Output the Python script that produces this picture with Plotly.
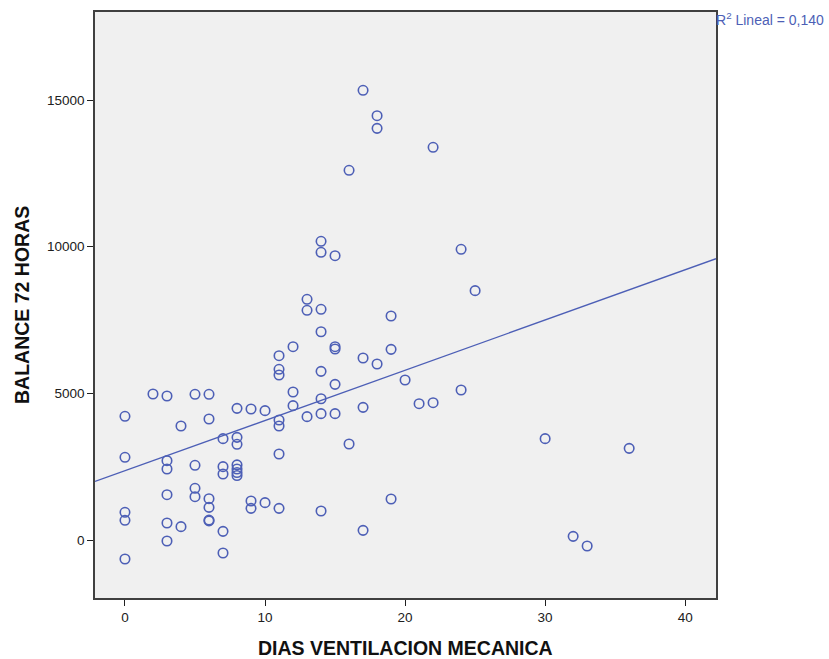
import numpy as np
import plotly.graph_objects as go

# Days on mechanical ventilation and 72-hour fluid balance per patient
dias = [
    0, 0, 0, 0, 0,
    2,
    3, 3, 3, 3, 3, 3,
    4, 4,
    5, 5, 5, 5,
    6, 6, 6, 6, 6, 6,
    7, 7, 7, 7, 7,
    8, 8, 8, 8, 8, 8, 8,
    9, 9, 9,
    10, 10,
    11, 11, 11, 11, 11, 11, 11,
    12, 12, 12,
    13, 13, 13,
    14, 14, 14, 14, 14, 14, 14, 14,
    15, 15, 15, 15, 15,
    16, 16,
    17, 17, 17, 17,
    18, 18, 18,
    19, 19, 19,
    20, 21,
    22, 22,
    24, 24,
    25, 30, 32, 33, 36,
]
balance = [
    4217, 2819, 944, 671, -648,
    4977,
    4909, 2705, 2421, 1545, 580, -34,
    3886, 455,
    4967, 2546, 1762, 1477,
    4967, 4125, 1409, 1114, 680, 650,
    3455, 2500, 2250, 295, -443,
    4489, 3500, 3262, 2560, 2420, 2300, 2200,
    4466, 1330, 1080,
    4410, 1273,
    6283, 5819, 5625, 4091, 3886, 2932, 1080,
    6590, 5045, 4580,
    8205, 7830, 4205,
    10183, 9808, 7865, 7101, 5750, 4817, 4307, 988,
    9692, 6590, 6511, 5307, 4307,
    12603, 3273,
    15330, 6204, 4523, 330,
    14465, 14034, 6000,
    7636, 6500, 1398,
    5454, 4647,
    13387, 4681,
    9910, 5113,
    8500, 3455, 125, -205, 3125,
]
r2_label = "R<sup>2</sup> Lineal = 0,140"
x_title = "DIAS VENTILACION MECANICA"
y_title = "BALANCE 72 HORAS"

x_ticks = [0, 10, 20, 30, 40]
y_ticks = [0, 5000, 10000, 15000]
x_range = [-2.14, 42.2]
y_range = [-1977, 18000]

blue = "#4D5FB6"
title_font = dict(family="Liberation Sans, Arial", size=19.5, color="#111111")

# Least-squares line across the full horizontal range
slope, intercept = np.polyfit(dias, balance, 1)
line_x = np.array(x_range)
line_y = intercept + slope * line_x

fig = go.Figure()
fig.add_trace(go.Scatter(
    x=line_x, y=line_y, mode="lines",
    line=dict(color=blue, width=1.4),
    hoverinfo="skip", showlegend=False,
))
fig.add_trace(go.Scatter(
    x=dias, y=balance, mode="markers",
    marker=dict(symbol="circle-open", size=9.5, color=blue, line=dict(width=1.6)),
    showlegend=False,
))

# Fit label at the upper right corner of the frame
fig.add_annotation(
    x=1.0, y=1.0, xref="paper", yref="paper",
    xanchor="left", yanchor="top", xshift=-2, yshift=4,
    text=r2_label, showarrow=False,
    font=dict(family="Liberation Sans, Arial", size=14, color=blue),
)
# Axis titles
fig.add_annotation(
    x=0.5, y=0, xref="paper", yref="paper",
    xanchor="center", yanchor="middle", yshift=-50,
    text=f"<b>{x_title}</b>", showarrow=False, font=title_font,
)
fig.add_annotation(
    x=0, y=0.5, xref="paper", yref="paper",
    xanchor="center", yanchor="middle", xshift=-73, textangle=-90,
    text=f"<b>{y_title}</b>", showarrow=False, font=title_font,
)

axis_common = dict(
    showgrid=False, zeroline=False, automargin=False,
    showline=True, linecolor="#404040", linewidth=1.5, mirror=True,
    ticks="outside", ticklen=6, tickcolor="#202020", tickwidth=1,
    tickfont=dict(family="Liberation Sans, Arial", size=13.5, color="#202020"),
)

fig.update_layout(
    width=829, height=659,
    margin=dict(l=95, r=113, t=12, b=61),
    paper_bgcolor="white",
    plot_bgcolor="#F0F0F0",
    xaxis=dict(range=x_range, tickvals=x_ticks, **axis_common),
    yaxis=dict(range=y_range, tickvals=y_ticks, tickformat="d", **axis_common),
)

fig.write_html("out.html")
